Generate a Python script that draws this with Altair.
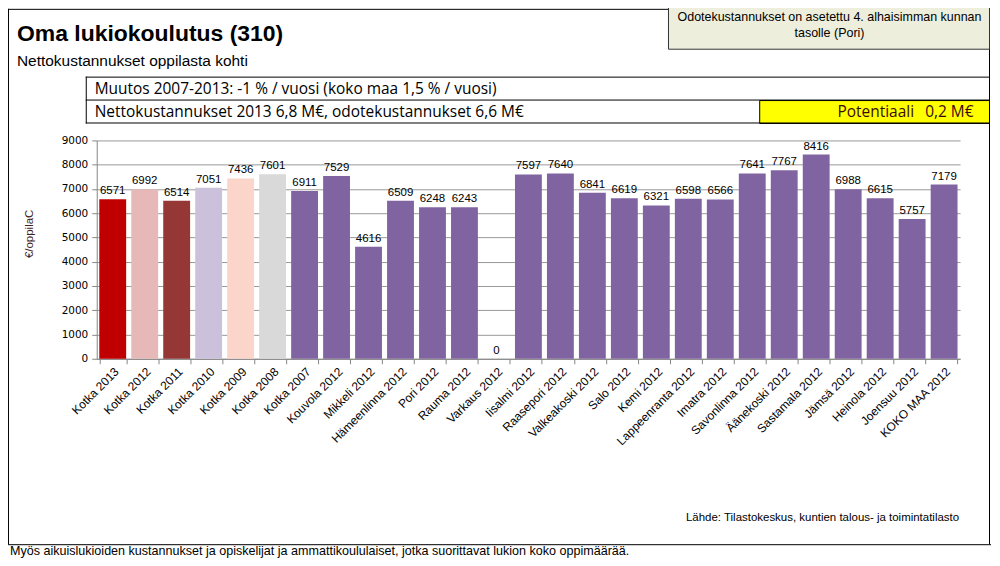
import altair as alt
import pandas as pd

categories = ["Kotka 2013", "Kotka 2012", "Kotka 2011", "Kotka 2010", "Kotka 2009", "Kotka 2008",
              "Kotka 2007", "Kouvola 2012", "Mikkeli 2012", "Hämeenlinna 2012", "Pori 2012",
              "Rauma 2012", "Varkaus 2012", "Iisalmi 2012", "Raasepori 2012", "Valkeakoski 2012",
              "Salo 2012", "Kemi 2012", "Lappeenranta 2012", "Imatra 2012", "Savonlinna 2012",
              "Äänekoski 2012", "Sastamala 2012", "Jämsä 2012", "Heinola 2012", "Joensuu 2012",
              "KOKO MAA 2012"]
values = [6571, 6992, 6514, 7051, 7436, 7601, 6911, 7529, 4616, 6509, 6248, 6243, 0,
          7597, 7640, 6841, 6619, 6321, 6598, 6566, 7641, 7767, 8416, 6988, 6615, 5757, 7179]
colors = ["#C00000", "#E6B9B8", "#953735", "#CCC1DA", "#FBD4CA", "#D9D9D9"] + ["#8064A2"] * 21
y_ticks = [0, 1000, 2000, 3000, 4000, 5000, 6000, 7000, 8000, 9000]

title = "Oma lukiokoulutus (310)"
subtitle = "Nettokustannukset oppilasta kohti"
note_box = ["Odotekustannukset on asetettu 4. alhaisimman kunnan", "tasolle (Pori)"]
row1 = "Muutos 2007-2013: -1 % / vuosi (koko maa 1,5 % / vuosi)"
row2 = "Nettokustannukset 2013 6,8 M€, odotekustannukset 6,6 M€"
pot_label = "Potentiaali"
pot_value = "0,2 M€"
y_title = "€/oppilaC"
source = "Lähde: Tilastokeskus, kuntien talous- ja toimintatilasto"
footer = "Myös aikuislukioiden kustannukset ja opiskelijat ja ammattikoululaiset, jotka suorittavat lukion koko oppimäärää."

df = pd.DataFrame({"cat": categories, "val": values})

W, H = 866, 219
OX, OY = 97, 140  # page position of plot origin


def px(x):
    return x - OX


def py(y):
    return y - OY


one = pd.DataFrame({"a": [0]})

xenc = alt.X("cat:N", sort=categories,
             scale=alt.Scale(paddingInner=0.16, paddingOuter=0.08),
             axis=alt.Axis(title=None, labelAngle=-45, labelFont="Liberation Sans", labelFontSize=12,
                           labelColor="#000000", tickBand="extent", tickColor="#868686", tickSize=5,
                           domainColor="#868686", labelPadding=2, grid=False, labelOverlap=False))
yenc = alt.Y("val:Q", scale=alt.Scale(domain=[0, 9000], nice=False),
             axis=alt.Axis(title=None, values=y_ticks, format="d", labelFont="DejaVu Sans", labelFontSize=10.5,
                           labelColor="#000000", grid=True, gridColor="#999999", gridWidth=1,
                           domainColor="#868686", tickColor="#868686", tickSize=5, labelPadding=4,
                           labelOverlap=False))

bars = alt.Chart(df).mark_bar().encode(
    x=xenc, y=yenc,
    color=alt.Color("cat:N", scale=alt.Scale(domain=categories, range=colors), legend=None))

labels = alt.Chart(df).mark_text(baseline="bottom", dy=-3, font="Liberation Sans", fontSize=11.5,
                                 color="#000000").encode(
    x=xenc, y=yenc, text="val:Q")


def rect(x1, y1, x2, y2, fill, stroke="#000000", sw=1):
    return alt.Chart(one).mark_rect(fill=fill, stroke=stroke, strokeWidth=sw).encode(
        x=alt.value(px(x1)), x2=alt.value(px(x2)), y=alt.value(py(y1)), y2=alt.value(py(y2)))


def hline(x1, x2, y, color="#000000"):
    return alt.Chart(one).mark_rule(color=color, strokeWidth=1).encode(
        x=alt.value(px(x1)), x2=alt.value(px(x2)), y=alt.value(py(y)))


def vline(x, y1, y2, color="#000000"):
    return alt.Chart(one).mark_rule(color=color, strokeWidth=1).encode(
        x=alt.value(px(x)), y=alt.value(py(y1)), y2=alt.value(py(y2)))


def text(t, x, y, size, font="Liberation Sans", align="left", weight="normal", color="#000000", angle=0):
    kw = dict(text=t, font=font, fontSize=size, align=align, baseline="middle", fontWeight=weight, color=color)
    if angle:
        kw["angle"] = angle
    return alt.Chart(one).mark_text(**kw).encode(x=alt.value(px(x)), y=alt.value(py(y)))


deco = [
    # outer frame
    vline(8.5, 8, 545),
    hline(8, 993, 8.5),
    vline(992.5, 8, 545),
    hline(8, 994, 545.5),
    # note box
    rect(670.5, 4, 992.5, 48.5, fill="#EEEEDD", stroke="#333333"),
    text(note_box[0], 832, 16, 12.5, align="center"),
    text(note_box[1], 832, 32, 12.5, align="center"),
    # info rows
    rect(762, 100, 992.5, 123, fill="#FFFF00", stroke="#000000"),
    hline(86, 993, 76.5),
    hline(86, 993, 99.5),
    hline(86, 993, 122.5),
    vline(86.5, 76, 123),
    text(row1, 95, 88, 15.5, font="Open Sans"),
    text(row2, 95, 111, 15.5, font="Open Sans"),
    text(pot_label, 840, 111, 15.5, font="Open Sans", color="#3A0A0A"),
    text(pot_value, 928, 111, 15.5, font="Open Sans", color="#3A0A0A"),
    # titles
    text(title, 17, 33, 23, weight="bold"),
    text(subtitle, 17, 60, 15.5),
    text(y_title, 30, 258, 11.5, color="#3F1F1F", angle=270),
    text(source, 962, 519, 11.5, align="right"),
    text(footer, 10, 552, 12.6),
]

chart = alt.layer(bars, labels, *deco).properties(
    width=W, height=H,
    autosize=alt.AutoSizeParams(type="none"),
    padding={"left": OX - 8, "top": OY - 8, "right": 32, "bottom": 199},
).configure_view(stroke=None)

chart.save("out.html", embed_options={"renderer": "svg", "actions": False})
